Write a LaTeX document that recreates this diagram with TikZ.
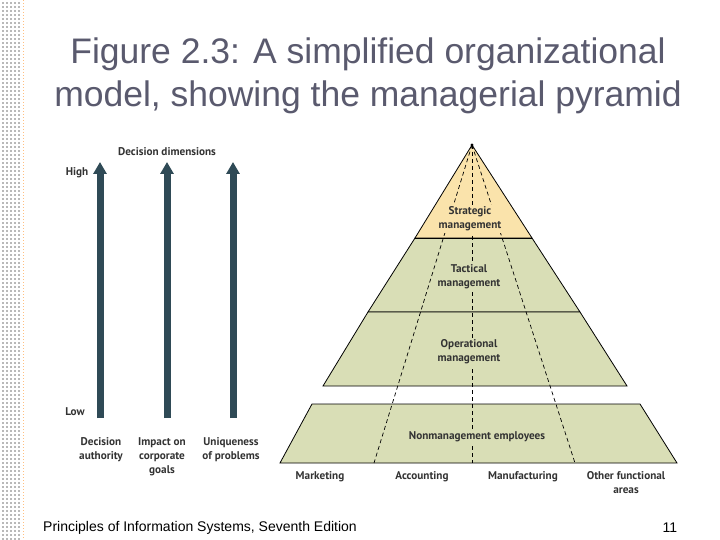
\documentclass[tikz,border=0pt]{standalone}
\usepackage{fontspec}
\setmainfont{Liberation Sans}
\newfontfamily\lab{PT Sans}
\usetikzlibrary{arrows.meta}
\definecolor{strat}{HTML}{FAE3AB}
\definecolor{lvl}{HTML}{D9DEB6}
\definecolor{arr}{HTML}{2F4A56}
\definecolor{ttl}{HTML}{5A5A6E}
\definecolor{txt}{HTML}{333333}
\tikzset{
  band/.style={draw=black, line width=0.8pt, fill=lvl},
  lbl/.style={font=\lab\bfseries\fontsize{11.2}{14}\selectfont, text=txt, align=center, inner sep=0pt},
  dimarrow/.style={draw=arr, line width=7pt, -{Triangle[width=13pt,length=12pt]}},
  divider/.style={line width=0.7pt, dash pattern=on 4pt off 3pt}
}
\begin{document}
\begin{tikzpicture}[x=1pt,y=-1pt]
\useasboundingbox (0,0) rectangle (720,540);
\fill[white] (0,0) rectangle (720,540);
% left dotted margin
\foreach \i in {0,...,134}{
  \foreach \j in {0,...,4}{
    \fill[gray!55] (2+\j*4,2+\i*4) rectangle ++(2.2,2.2);
  }
}
\draw[orange!50, line width=1pt, dotted] (23,0) -- (23,540);
% title
\node[text=ttl, font=\fontsize{35.5}{43}\selectfont, align=center] (title) at (368,76) {Figure 2.3: A simplified organizational\\model, showing the managerial pyramid};
% pyramid
\coordinate (apex) at (472,145);
\fill[strat] (apex) -- (532,238) -- (415,238) -- cycle;
\draw[band] (415,238) -- (532,238) -- (580,312) -- (368,312) -- cycle;
\draw[band] (368,312) -- (580,312) -- (627,386) -- (323,386) -- cycle;
\draw[band] (312,404) -- (640,404) -- (677,463) -- (280,463) -- cycle;
\draw[line width=0.8pt] (415,238) -- (apex) -- (532,238);
\draw[line width=0.8pt] (415,238) -- (532,238);
\fill (apex) circle (1.6);
\coordinate (d1) at (374,463);
\coordinate (d2) at (472,463);
\coordinate (d3) at (575,463);
\draw[divider] (apex) -- (d1);
\draw[divider] (apex) -- (d2);
\draw[divider] (apex) -- (d3);
\node[lbl, fill=strat, inner sep=1.5pt] (s) at (470,219) {Strategic\\management};
\node[lbl, fill=lvl, inner sep=1.5pt] (t) at (469,277) {Tactical\\management};
\node[lbl, fill=lvl, inner sep=1.5pt] (o) at (469,352) {Operational\\management};
\node[lbl, fill=lvl, inner sep=1.5pt] (n) at (477,437) {Nonmanagement employees};
\node[lbl] (m) at (320,477) {Marketing};
\node[lbl] (a) at (422,477) {Accounting};
\node[lbl] (mf) at (523,477) {Manufacturing};
\node[lbl, anchor=north] (of) at (626,471) {Other functional\\areas};
% arrows
\coordinate (b1) at (100,418); \coordinate (t1) at (100,162);
\coordinate (b2) at (167,418); \coordinate (t2) at (167,162);
\coordinate (b3) at (233,418); \coordinate (t3) at (233,162);
\draw[dimarrow] (b1) -- (t1);
\draw[dimarrow] (b2) -- (t2);
\draw[dimarrow] (b3) -- (t3);
\node[lbl] (dd) at (167,152) {Decision dimensions};
\node[lbl] (hi) at (77,173) {High};
\node[lbl] (lo) at (75,412) {Low};
\node[lbl, anchor=north] (da) at (101,437) {Decision\\authority};
\node[lbl, anchor=north] (ic) at (162,437) {Impact on\\corporate\\goals};
\node[lbl, anchor=north] (up) at (231,437) {Uniqueness\\of problems};
% footer
\node[anchor=west, font=\fontsize{14}{16}\selectfont, text=black, inner sep=0pt] (ft) at (43,528) {Principles of Information Systems, Seventh Edition};
\node[font=\fontsize{14}{16}\selectfont, inner sep=0pt] (pg) at (670,528) {11};
\end{tikzpicture}
\end{document}
